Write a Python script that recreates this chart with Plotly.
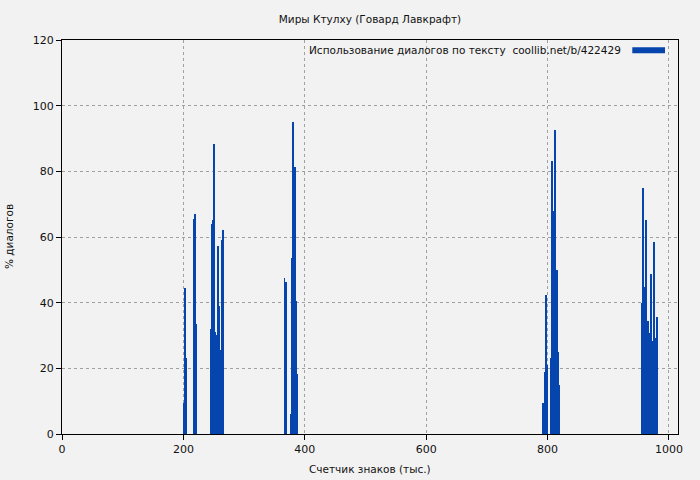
import plotly.graph_objects as go

# Character counter (thousands) and % dialogue per segment
positions = [
    200.5, 202.5, 204.5,
    217.8, 219.8, 221.5,
    246.2, 247.8, 249.5, 250.8, 252.4, 254.4, 256.1, 257.4, 259.0, 261.0, 262.3, 263.8, 265.4,
    366.6, 368.6,
    377.9, 379.6, 381.2, 382.9, 384.5, 386.1, 387.8,
    792.8, 795.0, 797.0, 798.6,
    806.0, 807.6, 809.3, 811.0, 812.6, 814.3, 815.9, 817.6, 819.2,
    955.8, 957.5, 960.8, 962.4, 965.7, 967.4, 970.7, 972.3, 974.0, 975.6, 977.3, 978.9, 980.6,
]
dialog_pct = [
    9.5, 44.4, 23.0,
    65.5, 67.0, 33.5,
    32.0, 64.0, 65.2, 88.3, 31.1, 2.2, 30.2, 57.3, 39.0, 1.0, 25.6, 59.1, 62.1,
    47.5, 46.3,
    6.1, 53.6, 95.0, 45.7, 81.2, 40.4, 18.3,
    9.3, 18.9, 42.4, 21.0,
    23.2, 83.3, 68.0, 57.3, 92.6, 3.4, 50.0, 25.0, 15.0,
    40.0, 75.0, 44.9, 65.2, 34.4, 30.8, 48.7, 28.4, 4.5, 58.5, 29.2, 24.8, 35.7,
]

title_text = "Миры Ктулху (Говард Лавкрафт)"
series_name = "Использование диалогов по тексту  coollib.net/b/422429"
x_title = "Счетчик знаков (тыс.)"
y_title = "% диалогов"
x_ticks = [0, 200, 400, 600, 800, 1000]
y_ticks = [0, 20, 40, 60, 80, 100, 120]

bar_color = "#0645ad"
bg = "#f2f2f2"
txt_color = "#111111"
font = dict(family="DejaVu Sans", size=11, color=txt_color)
label_font = dict(family="DejaVu Sans", size=10.5, color=txt_color)

fig = go.Figure()
fig.add_trace(go.Bar(
    x=positions, y=dialog_pct, width=1.5,
    marker=dict(color=bar_color, line=dict(width=0)),
    name=series_name, showlegend=False,
))

L, R, T, B = 62, 22, 40, 46
W, H = 700, 480
pw, ph = W - L - R, H - T - B

def px_x(px):
    return (px - L) / pw

def px_y(py):
    return (H - B - py) / ph

fig.update_layout(
    width=W, height=H,
    margin=dict(l=L, r=R, t=T, b=B),
    paper_bgcolor=bg, plot_bgcolor=bg,
    font=font,
    bargap=0,
    title=dict(text=title_text, x=0.5, xref="paper", xanchor="center",
               y=1 - 19.7 / H, yref="container", yanchor="middle",
               font=label_font),
    xaxis=dict(range=[0, 1015], tickvals=x_ticks, ticktext=[str(v) for v in x_ticks],
               showgrid=True, gridcolor="#a0a0a0", griddash="dot", gridwidth=1,
               zeroline=False, showline=True, linecolor="black", linewidth=1, mirror=True,
               ticks="outside", ticklen=5, tickcolor="black", tickwidth=1),
    yaxis=dict(range=[0, 120], tickvals=y_ticks, ticktext=[str(v) for v in y_ticks],
               showgrid=True, gridcolor="#a0a0a0", griddash="dot", gridwidth=1,
               zeroline=False, showline=True, linecolor="black", linewidth=1, mirror=True,
               ticks="outside", ticklen=5, tickcolor="black", tickwidth=1),
    annotations=[
        dict(text=x_title, x=0.5, y=px_y(469), xref="paper", yref="paper",
             xanchor="center", yanchor="middle", showarrow=False, font=label_font),
        dict(text=y_title, x=px_x(9), y=px_y(237), xref="paper", yref="paper",
             xanchor="center", yanchor="middle", textangle=-90, showarrow=False,
             font=label_font),
        dict(text=series_name, x=px_x(623), y=px_y(50.3), xref="paper", yref="paper",
             xanchor="right", yanchor="middle", showarrow=False, font=label_font),
    ],
    shapes=[
        dict(type="rect", xref="paper", yref="paper",
             x0=px_x(632.3), x1=px_x(665), y0=px_y(53.3), y1=px_y(47.3),
             fillcolor=bar_color, line=dict(width=0)),
    ],
)

fig.write_html("out.html", config={"displayModeBar": False},
               post_script="document.body.style.margin='0';")
